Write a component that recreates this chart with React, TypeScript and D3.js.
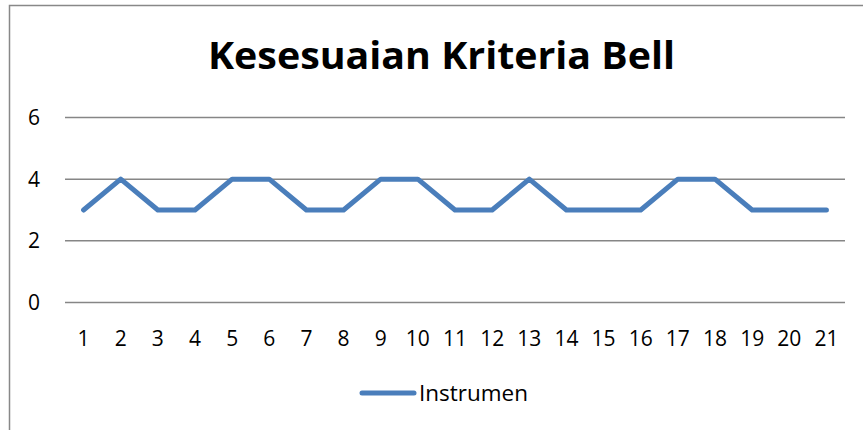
import {useEffect, useRef} from "react";
import * as d3 from "d3";

const title = "Kesesuaian Kriteria Bell";
const seriesName = "Instrumen";
const categories = ["1","2","3","4","5","6","7","8","9","10","11","12","13","14","15","16","17","18","19","20","21"];
const values = [3,4,3,3,4,4,3,3,4,4,3,3,4,3,3,3,4,4,3,3,3];
const yTicks = [0, 2, 4, 6];

const FONT = "'Open Sans', Lato, sans-serif";

function App() {
    const myNode = useRef<SVGSVGElement>(null);

    useEffect(() => {
        const width = 863;
        const height = 430;
        const svg = d3.select(myNode.current);
        svg.selectAll('*').remove();
        svg.attr('width', width).attr('height', height);

        // chart frame (runs past the picture on the right and bottom)
        svg.append('rect')
            .attr('x', 9.5).attr('y', 5.5)
            .attr('width', 900).attr('height', 500)
            .attr('fill', '#fff')
            .attr('stroke', '#888')
            .attr('stroke-width', 1.5);

        svg.append('text')
            .attr('x', 208).attr('y', 69)
            .attr('font-family', FONT)
            .attr('font-weight', 'bold')
            .attr('font-size', 37)
            .attr('textLength', 467)
            .attr('lengthAdjust', 'spacingAndGlyphs')
            .text(title);

        const xScale = d3.scaleBand()
            .domain(categories)
            .range([65, 845]);

        const yScale = d3.scaleLinear()
            .domain([0, 6])
            .range([302.5, 117.5]);

        // gridlines
        svg.append('g')
            .selectAll('line')
            .data(yTicks)
            .enter()
            .append('line')
            .attr('x1', 65).attr('x2', 845)
            .attr('y1', d => yScale(d)).attr('y2', d => yScale(d))
            .attr('stroke', '#868686')
            .attr('stroke-width', 1.5);

        svg.append('g')
            .selectAll('text')
            .data(yTicks)
            .enter()
            .append('text')
            .attr('x', 40)
            .attr('y', d => yScale(d) + 7.5)
            .attr('text-anchor', 'end')
            .attr('font-family', FONT)
            .attr('font-size', 21)
            .text(d => d);

        svg.append('g')
            .selectAll('text')
            .data(categories)
            .enter()
            .append('text')
            .attr('x', d => xScale(d)! + xScale.bandwidth() / 2)
            .attr('y', 345.5)
            .attr('text-anchor', 'middle')
            .attr('font-family', FONT)
            .attr('font-size', 21)
            .text(d => d);

        const line = d3.line<number>()
            .x((d, i) => xScale(categories[i])! + xScale.bandwidth() / 2)
            .y(d => yScale(d));

        svg.append('path')
            .datum(values)
            .attr('d', line)
            .attr('fill', 'none')
            .attr('stroke', '#4A7EBB')
            .attr('stroke-width', 5)
            .attr('stroke-linejoin', 'round')
            .attr('stroke-linecap', 'round');

        // legend
        svg.append('line')
            .attr('x1', 362).attr('x2', 414)
            .attr('y1', 393).attr('y2', 393)
            .attr('stroke', '#4A7EBB')
            .attr('stroke-width', 5)
            .attr('stroke-linecap', 'round');
        svg.append('text')
            .attr('x', 419).attr('y', 401)
            .attr('font-family', FONT)
            .attr('font-size', 21)
            .attr('textLength', 109)
            .attr('lengthAdjust', 'spacingAndGlyphs')
            .text(seriesName);
    }, []);

    return (
        <svg ref={myNode} style={{position: 'absolute', left: 0, top: 0}}></svg>
    );
}

export default App;
